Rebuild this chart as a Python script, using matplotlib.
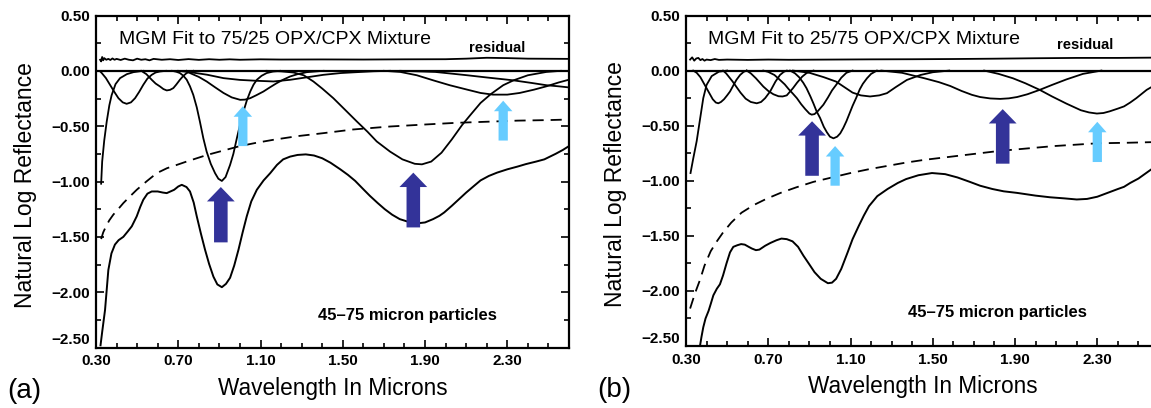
import matplotlib
matplotlib.use("Agg")
import matplotlib.pyplot as plt
from matplotlib.ticker import FixedLocator, FixedFormatter, MultipleLocator

plt.rcParams['font.family'] = ['Liberation Sans', 'DejaVu Sans']
plt.rcParams['lines.scale_dashes'] = False

# ---------------- data: panel (a) 75/25 OPX/CPX ----------------
title_a = "MGM Fit to 75/25 OPX/CPX Mixture"
title_b = "MGM Fit to 25/75 OPX/CPX Mixture"
x_tick_labels = ["0.30", "0.70", "1.10", "1.50", "1.90", "2.30"]
y_tick_labels = ["0.50", "0.00", "\u22120.50", "\u22121.00", "\u22121.50", "\u22122.00", "\u22122.50"]

spec_a_x = [0.322, 0.33, 0.344, 0.36, 0.375, 0.392, 0.41, 0.433, 0.455, 0.474, 0.498, 0.515, 0.53,
            0.55, 0.571, 0.60, 0.625, 0.644, 0.68, 0.70, 0.717, 0.74, 0.757, 0.775, 0.79, 0.81,
            0.83, 0.85, 0.871, 0.89, 0.912, 0.932, 0.952, 0.972, 0.993, 1.013, 1.033, 1.055,
            1.082, 1.115, 1.147, 1.18, 1.21, 1.244, 1.28, 1.32, 1.36, 1.40, 1.44, 1.488, 1.525,
            1.56, 1.60, 1.632, 1.67, 1.704, 1.74, 1.777, 1.82, 1.867, 1.90, 1.939, 1.97, 1.993,
            2.03, 2.065, 2.10, 2.138, 2.17, 2.21, 2.25, 2.30, 2.35, 2.39, 2.44, 2.48, 2.535,
            2.57, 2.60]
spec_a_y = [-2.48, -2.36, -2.16, -1.80, -1.65, -1.57, -1.53, -1.50, -1.45, -1.405, -1.315, -1.23,
            -1.165, -1.11, -1.09, -1.09, -1.10, -1.105, -1.075, -1.045, -1.03, -1.05, -1.09,
            -1.19, -1.315, -1.47, -1.615, -1.745, -1.86, -1.93, -1.955, -1.925, -1.87, -1.76,
            -1.615, -1.46, -1.315, -1.18, -1.075, -0.99, -0.925, -0.85, -0.80, -0.775, -0.76,
            -0.755, -0.765, -0.79, -0.83, -0.89, -0.94, -0.994, -1.07, -1.13, -1.195, -1.25,
            -1.30, -1.34, -1.365, -1.377, -1.37, -1.34, -1.31, -1.28, -1.22, -1.16, -1.10,
            -1.04, -0.99, -0.95, -0.92, -0.89, -0.865, -0.843, -0.82, -0.80, -0.75, -0.715, -0.68]

cont_a_x = [0.325, 0.335, 0.35, 0.365, 0.384, 0.41, 0.433, 0.465, 0.498, 0.545, 0.595, 0.645,
            0.693, 0.74, 0.79, 0.84, 0.92, 1.0, 1.08, 1.163, 1.28, 1.406, 1.55, 1.73, 1.90,
            2.05, 2.2, 2.35, 2.5, 2.6]
cont_a_y = [-1.52, -1.46, -1.40, -1.35, -1.30, -1.245, -1.195, -1.135, -1.075, -1.0, -0.925,
            -0.88, -0.85, -0.82, -0.79, -0.76, -0.72, -0.68, -0.65, -0.623, -0.59, -0.563,
            -0.53, -0.503, -0.485, -0.47, -0.46, -0.45, -0.445, -0.44]

resid_a_x = [0.32, 0.325, 0.33, 0.335, 0.34, 0.35, 0.36, 0.37, 0.38, 0.39, 0.40, 0.42, 0.44,
             0.46, 0.48, 0.50, 0.52, 0.54, 0.56, 0.58, 0.62, 0.66, 0.70, 0.75, 0.80, 0.85,
             0.90, 0.95, 1.0, 1.1, 1.2, 1.4, 1.6, 1.8, 2.0, 2.1, 2.2, 2.3, 2.4, 2.6]
resid_a_y = [0.10, 0.085, 0.125, 0.095, 0.115, 0.10, 0.108, 0.098, 0.112, 0.10, 0.108, 0.098,
             0.11, 0.10, 0.095, 0.11, 0.10, 0.105, 0.095, 0.108, 0.10, 0.105, 0.098, 0.106,
             0.099, 0.105, 0.10, 0.104, 0.10, 0.104, 0.102, 0.103, 0.102, 0.104, 0.105, 0.11,
             0.118, 0.115, 0.11, 0.108]

band_uv_a_x = [0.325, 0.33, 0.34, 0.352, 0.365, 0.376, 0.395, 0.417, 0.45, 0.482, 0.53]
band_uv_a_y = [-1.02, -0.82, -0.63, -0.46, -0.31, -0.22, -0.12, -0.066, -0.03, -0.012, 0.0]
band_045_a_x = [0.32, 0.328, 0.348, 0.368, 0.389, 0.409, 0.43, 0.449, 0.47, 0.49, 0.51, 0.53,
                0.55, 0.571, 0.59, 0.611, 0.64]
band_045_a_y = [-0.005, -0.02, -0.065, -0.126, -0.19, -0.247, -0.285, -0.298, -0.285, -0.247,
                -0.19, -0.126, -0.07, -0.036, -0.015, -0.006, 0.0]
band_065_a_x = [0.52, 0.545, 0.571, 0.59, 0.611, 0.628, 0.644, 0.66, 0.676, 0.69, 0.708, 0.725,
                0.741, 0.773]
band_065_a_y = [0.0, -0.03, -0.081, -0.115, -0.141, -0.165, -0.177, -0.172, -0.156, -0.125,
                -0.081, -0.045, -0.02, 0.0]
band_091_a_x = [0.67, 0.69, 0.708, 0.725, 0.741, 0.757, 0.773, 0.79, 0.805, 0.822, 0.838, 0.858,
                0.879, 0.895, 0.912, 0.93, 0.952, 0.968, 0.985, 1.0, 1.017, 1.033, 1.05, 1.066,
                1.082, 1.105, 1.13, 1.16, 1.195]
band_091_a_y = [0.0, -0.008, -0.02, -0.045, -0.08, -0.14, -0.217, -0.33, -0.457, -0.61, -0.73,
                -0.84, -0.925, -0.975, -0.995, -0.96, -0.85, -0.75, -0.608, -0.49, -0.367, -0.27,
                -0.187, -0.125, -0.081, -0.045, -0.02, -0.007, 0.0]
band_101_a_x = [0.74, 0.757, 0.8, 0.838, 0.88, 0.92, 0.96, 1.001, 1.025, 1.05, 1.08, 1.114,
                1.145, 1.179, 1.21, 1.244, 1.28, 1.325, 1.406]
band_101_a_y = [0.0, -0.02, -0.055, -0.096, -0.15, -0.2, -0.24, -0.262, -0.26, -0.247, -0.22,
                -0.187, -0.15, -0.111, -0.08, -0.051, -0.03, -0.012, 0.0]
band_116_a_x = [0.70, 0.757, 0.84, 0.92, 1.0, 1.082, 1.163, 1.244, 1.32, 1.406, 1.49, 1.568,
                1.65, 1.73]
band_116_a_y = [0.0, -0.012, -0.035, -0.066, -0.082, -0.09, -0.096, -0.081, -0.06, -0.036,
                -0.02, -0.012, -0.004, 0.0]
band_188_a_x = [1.13, 1.2, 1.26, 1.31, 1.357, 1.40, 1.454, 1.51, 1.568, 1.62, 1.665, 1.73, 1.79,
                1.85, 1.885, 1.93, 1.98, 2.03, 2.08, 2.12, 2.17, 2.22, 2.28, 2.33, 2.40, 2.49, 2.56]
band_188_a_y = [0.0, -0.005, -0.015, -0.04, -0.096, -0.16, -0.247, -0.35, -0.457, -0.55, -0.638,
                -0.73, -0.80, -0.84, -0.845, -0.82, -0.74, -0.62, -0.49, -0.40, -0.29, -0.21,
                -0.13, -0.086, -0.04, -0.01, 0.0]
band_227_a_x = [1.70, 1.78, 1.86, 1.94, 2.02, 2.105, 2.17, 2.23, 2.30, 2.36, 2.43, 2.49, 2.55, 2.6]
band_227_a_y = [0.0, -0.01, -0.04, -0.086, -0.13, -0.17, -0.20, -0.215, -0.215, -0.20, -0.17,
                -0.14, -0.105, -0.08]
band_ir_a_x = [1.78, 1.95, 2.105, 2.2, 2.33, 2.42, 2.49, 2.55, 2.6]
band_ir_a_y = [0.0, -0.01, -0.04, -0.06, -0.086, -0.11, -0.13, -0.14, -0.15]

# arrows: (wavelength, tail, tip, kind)
arrows_a = [(0.907, -1.55, -1.05, "dark"), (1.843, -1.415, -0.92, "dark"),
            (1.014, -0.68, -0.32, "light"), (2.28, -0.63, -0.27, "light")]

# ---------------- data: panel (b) 25/75 OPX/CPX ----------------
spec_b_x = [0.368, 0.375, 0.384, 0.395, 0.41, 0.42, 0.433, 0.45, 0.465, 0.48, 0.497, 0.514,
            0.53, 0.55, 0.568, 0.586, 0.605, 0.62, 0.64, 0.657, 0.685, 0.71, 0.74, 0.764, 0.79,
            0.818, 0.845, 0.871, 0.90, 0.925, 0.955, 0.99, 1.01, 1.03, 1.055, 1.086, 1.11, 1.14,
            1.165, 1.19, 1.23, 1.28, 1.33, 1.37, 1.43, 1.496, 1.56, 1.62, 1.68, 1.73, 1.79,
            1.845, 1.909, 2.0, 2.07, 2.14, 2.20, 2.25, 2.30, 2.35, 2.40, 2.43, 2.46, 2.50, 2.56, 2.6]
spec_b_y = [-2.5, -2.42, -2.33, -2.25, -2.18, -2.12, -2.04, -1.98, -1.94, -1.86, -1.75, -1.65,
            -1.60, -1.585, -1.575, -1.58, -1.60, -1.615, -1.63, -1.625, -1.59, -1.565, -1.54,
            -1.525, -1.53, -1.55, -1.60, -1.68, -1.76, -1.83, -1.89, -1.93, -1.925, -1.89, -1.80,
            -1.65, -1.53, -1.41, -1.315, -1.23, -1.14, -1.075, -1.02, -0.985, -0.95, -0.93,
            -0.94, -0.97, -1.01, -1.045, -1.075, -1.096, -1.11, -1.135, -1.15, -1.16, -1.17,
            -1.165, -1.145, -1.11, -1.075, -1.055, -1.02, -0.98, -0.90, -0.85]

cont_b_x = [0.32, 0.332, 0.344, 0.368, 0.39, 0.42, 0.45, 0.48, 0.52, 0.57, 0.63, 0.69, 0.76,
            0.836, 0.92, 1.01, 1.1, 1.19, 1.28, 1.37, 1.46, 1.55, 1.64, 1.73, 1.82, 1.91, 2.0,
            2.09, 2.2, 2.3, 2.45, 2.6]
cont_b_y = [-2.16, -2.09, -2.02, -1.90, -1.77, -1.64, -1.55, -1.47, -1.38, -1.29, -1.22, -1.165,
            -1.11, -1.06, -1.01, -0.97, -0.93, -0.895, -0.865, -0.835, -0.81, -0.79, -0.77,
            -0.75, -0.73, -0.715, -0.70, -0.685, -0.672, -0.66, -0.655, -0.648]

resid_b_x = [0.32, 0.33, 0.34, 0.35, 0.36, 0.37, 0.38, 0.39, 0.40, 0.42, 0.44, 0.46, 0.5, 0.6,
             0.7, 0.8, 1.0, 1.2, 1.4, 1.6, 1.8, 2.0, 2.2, 2.4, 2.6]
resid_b_y = [0.10, 0.12, 0.09, 0.11, 0.115, 0.095, 0.105, 0.09, 0.10, 0.095, 0.105, 0.097, 0.10,
             0.097, 0.10, 0.098, 0.10, 0.102, 0.103, 0.105, 0.108, 0.112, 0.115, 0.115, 0.118]

band_uv_b_x = [0.322, 0.335, 0.352, 0.37, 0.384, 0.40, 0.425, 0.46, 0.5]
band_uv_b_y = [-0.93, -0.80, -0.64, -0.42, -0.25, -0.13, -0.05, -0.01, 0.0]
band_046_b_x = [0.335, 0.352, 0.37, 0.385, 0.40, 0.415, 0.43, 0.445, 0.457, 0.47, 0.485, 0.5,
                0.514, 0.53, 0.545, 0.563, 0.58, 0.595]
band_046_b_y = [0.0, -0.02, -0.06, -0.11, -0.16, -0.21, -0.26, -0.29, -0.297, -0.285, -0.26,
                -0.225, -0.19, -0.135, -0.085, -0.04, -0.012, 0.0]
band_064_b_x = [0.48, 0.495, 0.51, 0.527, 0.544, 0.565, 0.59, 0.615, 0.644, 0.665, 0.685, 0.709,
                0.722, 0.735, 0.757, 0.775, 0.79]
band_064_b_y = [0.0, -0.025, -0.06, -0.10, -0.145, -0.2, -0.255, -0.285, -0.297, -0.285, -0.25,
                -0.19, -0.145, -0.10, -0.04, -0.012, 0.0]
band_077_b_x = [0.595, 0.615, 0.64, 0.676, 0.70, 0.725, 0.75, 0.77, 0.79, 0.82, 0.84, 0.865,
                0.888, 0.92]
band_077_b_y = [0.0, -0.025, -0.07, -0.145, -0.185, -0.215, -0.233, -0.235, -0.225, -0.16, -0.11,
                -0.055, -0.02, 0.0]
band_091_b_x = [0.676, 0.70, 0.73, 0.757, 0.78, 0.80, 0.82, 0.839, 0.86, 0.88, 0.90, 0.911,
                0.925, 0.94, 0.968, 0.99, 1.01, 1.03, 1.055, 1.08, 1.11]
band_091_b_y = [0.0, -0.012, -0.04, -0.085, -0.125, -0.17, -0.21, -0.25, -0.305, -0.35, -0.39,
                -0.40, -0.395, -0.37, -0.31, -0.245, -0.18, -0.13, -0.065, -0.02, 0.0]
band_102_b_x = [0.806, 0.83, 0.85, 0.87, 0.886, 0.905, 0.92, 0.935, 0.952, 0.97, 0.985, 1.0,
                1.017, 1.035, 1.05, 1.065, 1.08, 1.095, 1.11, 1.127, 1.145, 1.16, 1.18, 1.2, 1.228]
band_102_b_y = [0.0, -0.025, -0.06, -0.11, -0.16, -0.235, -0.30, -0.37, -0.43, -0.51, -0.56,
                -0.60, -0.615, -0.60, -0.57, -0.52, -0.46, -0.39, -0.32, -0.25, -0.17, -0.12,
                -0.07, -0.03, 0.0]
band_120_b_x = [0.82, 0.9, 0.97, 1.03, 1.07, 1.11, 1.15, 1.195, 1.24, 1.277, 1.32, 1.374, 1.44,
                1.5, 1.58]
band_120_b_y = [0.0, -0.02, -0.06, -0.10, -0.15, -0.20, -0.225, -0.235, -0.225, -0.205, -0.15,
                -0.085, -0.04, -0.015, 0.0]
band_183_b_x = [1.25, 1.35, 1.46, 1.53, 1.585, 1.64, 1.69, 1.73, 1.78, 1.828, 1.87, 1.91, 1.96,
                2.02, 2.08, 2.15, 2.23, 2.32]
band_183_b_y = [0.0, -0.02, -0.07, -0.105, -0.14, -0.185, -0.22, -0.24, -0.253, -0.257, -0.252,
                -0.24, -0.215, -0.175, -0.13, -0.08, -0.03, 0.0]
band_230_b_x = [1.75, 1.82, 1.89, 1.95, 2.02, 2.08, 2.15, 2.22, 2.26, 2.298, 2.33, 2.36, 2.40,
                2.43, 2.46, 2.49, 2.54, 2.6]
band_230_b_y = [0.0, -0.03, -0.07, -0.115, -0.175, -0.235, -0.30, -0.36, -0.38, -0.39, -0.385,
                -0.37, -0.345, -0.325, -0.29, -0.25, -0.175, -0.11]

arrows_b = [(0.913, -0.955, -0.46, "dark"), (1.84, -0.845, -0.35, "dark"),
            (1.025, -1.045, -0.685, "light"), (2.30, -0.83, -0.465, "light")]

bands_a = [(band_uv_a_x, band_uv_a_y), (band_045_a_x, band_045_a_y), (band_065_a_x, band_065_a_y),
           (band_091_a_x, band_091_a_y), (band_101_a_x, band_101_a_y), (band_116_a_x, band_116_a_y),
           (band_188_a_x, band_188_a_y), (band_227_a_x, band_227_a_y), (band_ir_a_x, band_ir_a_y)]
bands_b = [(band_uv_b_x, band_uv_b_y), (band_046_b_x, band_046_b_y), (band_064_b_x, band_064_b_y),
           (band_077_b_x, band_077_b_y), (band_091_b_x, band_091_b_y), (band_102_b_x, band_102_b_y),
           (band_120_b_x, band_120_b_y), (band_183_b_x, band_183_b_y), (band_230_b_x, band_230_b_y)]

# ---------------- drawing ----------------
W, H = 1151, 408
fig = plt.figure(figsize=(W / 100, H / 100), dpi=100)
fig.patch.set_facecolor("white")

ARROW_STYLE = {
    "dark": dict(color="#333399", width=0.066, head_width=0.135, head_length=0.13),
    "light": dict(color="#66CCFF", width=0.045, head_width=0.09, head_length=0.095),
}
LW = 1.3


def draw_panel(ax, title, rx, ry, bands, cx, cy, sx, sy, arrows, res_pos, title_pos, part_pos):
    ax.set_xlim(0.3, 2.6)
    ax.set_ylim(-2.5, 0.5)
    ax.axhline(0.0, color="black", lw=1.6, zorder=3)
    ax.plot(rx, ry, color="black", lw=LW, zorder=3)
    for bx, by in bands:
        ax.plot(bx, by, color="black", lw=LW, zorder=3)
    ax.plot(cx, cy, color="black", lw=LW, dashes=(8, 5), zorder=3)
    ax.plot(sx, sy, color="black", lw=1.4, zorder=3)
    for xw, tail, tip, kind in arrows:
        st = ARROW_STYLE[kind]
        ax.arrow(xw, tail, 0, tip - tail, width=st["width"], head_width=st["head_width"],
                 head_length=st["head_length"], length_includes_head=True,
                 color=st["color"], lw=0, zorder=5)
    ax.text(title_pos[0], title_pos[1], title, fontsize=14, va="center", ha="left")
    ax.text(res_pos[0], res_pos[1], "residual", fontsize=10.5, fontweight="bold",
            va="center", ha="left")
    ax.text(part_pos[0], part_pos[1], "45\u201375 micron particles", fontsize=12,
            fontweight="bold", va="center", ha="left")

    xt = [float(t) for t in x_tick_labels]
    yt = [float(t.replace("\u2212", "-")) for t in y_tick_labels]
    ax.xaxis.set_major_locator(FixedLocator(xt))
    ax.xaxis.set_major_formatter(FixedFormatter(x_tick_labels))
    ax.yaxis.set_major_locator(FixedLocator(yt))
    ax.yaxis.set_major_formatter(FixedFormatter(y_tick_labels))
    ax.xaxis.set_minor_locator(MultipleLocator(0.1))
    ax.yaxis.set_minor_locator(MultipleLocator(0.25))
    ax.tick_params(which="both", direction="in", top=True, right=True, width=1.2)
    ax.tick_params(which="major", length=6)
    ax.tick_params(which="minor", length=3.5)
    ax.tick_params(axis="x", which="major", pad=5)
    ax.tick_params(axis="y", which="major", pad=4)
    for lab in ax.get_xticklabels() + ax.get_yticklabels():
        lab.set_fontweight("bold")
        lab.set_fontsize(11)
    # lift the bottom y label slightly so it does not collide with the first x label
    ax.get_yticklabels()[-1].set_verticalalignment("bottom")
    for sp in ax.spines.values():
        sp.set_linewidth(1.6)
    ax.set_xlabel("Wavelength In Microns", fontsize=16.3)
    ax.xaxis.set_label_coords(0.5, -0.124)
    ax.xaxis.label.set_verticalalignment("center")
    ax.set_ylabel("Natural Log Reflectance", fontsize=16.5)
    ax.yaxis.set_label_coords(-0.148, 0.49)
    ax.yaxis.label.set_verticalalignment("center")


ax_a = fig.add_axes([96 / W, (H - 347.5) / H, 473 / W, 332 / H])
ax_b = fig.add_axes([686 / W, (H - 346) / H, 473 / W, 330.5 / H])

draw_panel(ax_a, title_a, resid_a_x, resid_a_y, bands_a, cont_a_x, cont_a_y, spec_a_x, spec_a_y,
           arrows_a, (2.115, 0.21), (0.41, 0.283), (1.38, -2.21))
draw_panel(ax_b, title_b, resid_b_x, resid_b_y, bands_b, cont_b_x, cont_b_y, spec_b_x, spec_b_y,
           arrows_b, (2.105, 0.235), (0.407, 0.28), (1.38, -2.20))

fig.text(7 / W, 17 / H, "(a)", fontsize=20, va="center", ha="left")
fig.text(597 / W, 18 / H, "(b)", fontsize=20, va="center", ha="left")

fig.savefig("out.png", dpi=100, facecolor="white")
